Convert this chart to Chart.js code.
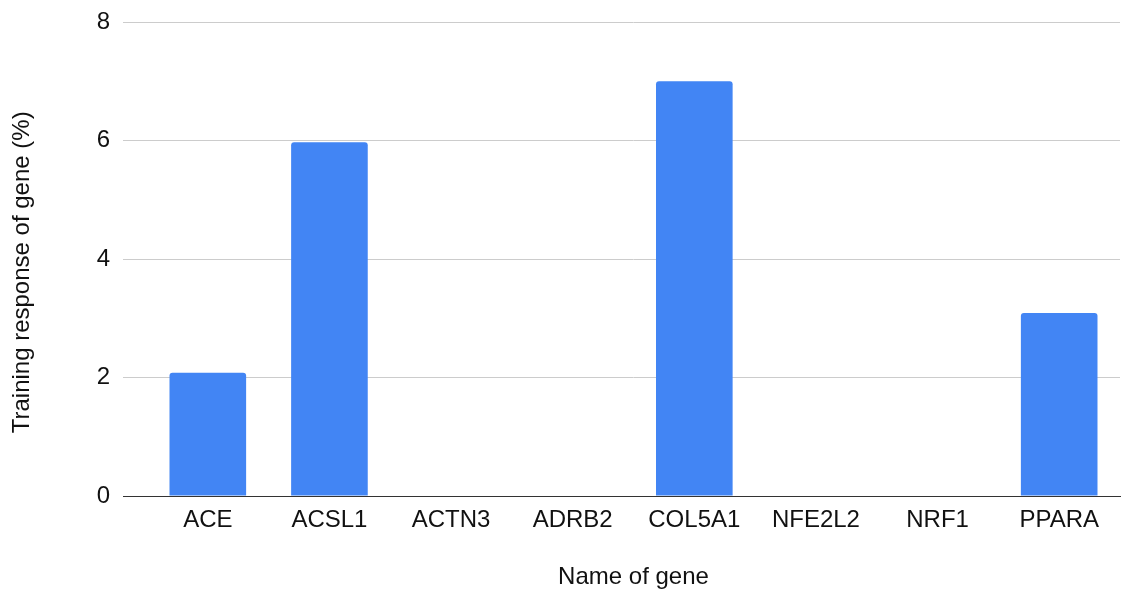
<!DOCTYPE html>
<html>
<head>
<meta charset="utf-8">
<script src="https://cdn.jsdelivr.net/npm/chart.js@4.4.1/dist/chart.umd.min.js"></script>
<style>
  html, body { margin: 0; padding: 0; background: #fff; }
  #wrap { width: 1135px; height: 593px; }
</style>
</head>
<body>
<div id="wrap"><canvas id="chart"></canvas></div>
<script>
// Chart data
const geneNames = ['ACE', 'ACSL1', 'ACTN3', 'ADRB2', 'COL5A1', 'NFE2L2', 'NRF1', 'PPARA'];
const trainingResponse = [2.08, 5.97, 0, 0, 7, 0, 0, 3.09];
const yTicks = [0, 2, 4, 6, 8];

const fontFamily = '"Liberation Sans", Arial, sans-serif';
const textColor = '#111';

const ctx = document.getElementById('chart').getContext('2d');
new Chart(ctx, {
    type: 'bar',
    data: {
        labels: geneNames,
        datasets: [{
            label: 'Training response of gene (%)',
            data: trainingResponse,
            backgroundColor: '#4285f4',
            borderRadius: { topLeft: 3, topRight: 3 },
            borderSkipped: 'bottom',
            barPercentage: 0.63,
            categoryPercentage: 1.0
        }]
    },
    options: {
        responsive: true,
        maintainAspectRatio: false,
        animation: false,
        layout: {
            padding: { top: 22, right: 15, bottom: 0, left: 0 }
        },
        plugins: {
            legend: { display: false },
            tooltip: { enabled: false }
        },
        scales: {
            x: {
                grid: { display: false, drawTicks: false },
                border: { display: true, color: '#333', width: 1 },
                ticks: {
                    color: textColor,
                    font: { family: fontFamily, size: 24 },
                    padding: 10,
                    maxRotation: 0
                },
                title: {
                    display: true,
                    text: 'Name of gene',
                    color: textColor,
                    font: { family: fontFamily, size: 24 },
                    padding: { top: 1, bottom: 1 }
                },
                afterFit: (scale) => { scale.height = 97; }
            },
            y: {
                min: 0,
                max: 8,
                afterBuildTicks: (scale) => {
                    scale.ticks = yTicks.map(v => ({ value: v }));
                },
                // tick marks extend the grid lines left of the first category band
                grid: {
                    color: (c) => c.tick && c.tick.value === 0 ? '#333' : '#cccccc',
                    drawTicks: true,
                    tickLength: 24
                },
                border: { display: false },
                ticks: {
                    color: textColor,
                    font: { family: fontFamily, size: 24 },
                    padding: 13
                },
                title: {
                    display: true,
                    // trailing spaces nudge the rotated title down a little
                    text: 'Training response of gene (%)    ',
                    color: textColor,
                    font: { family: fontFamily, size: 24 },
                    padding: { top: 8, bottom: 8 }
                },
                afterFit: (scale) => {
                    scale.width = 147;
                    scale.paddingTop = 0;
                    scale.paddingBottom = 0;
                }
            }
        }
    }
});
</script>
</body>
</html>
